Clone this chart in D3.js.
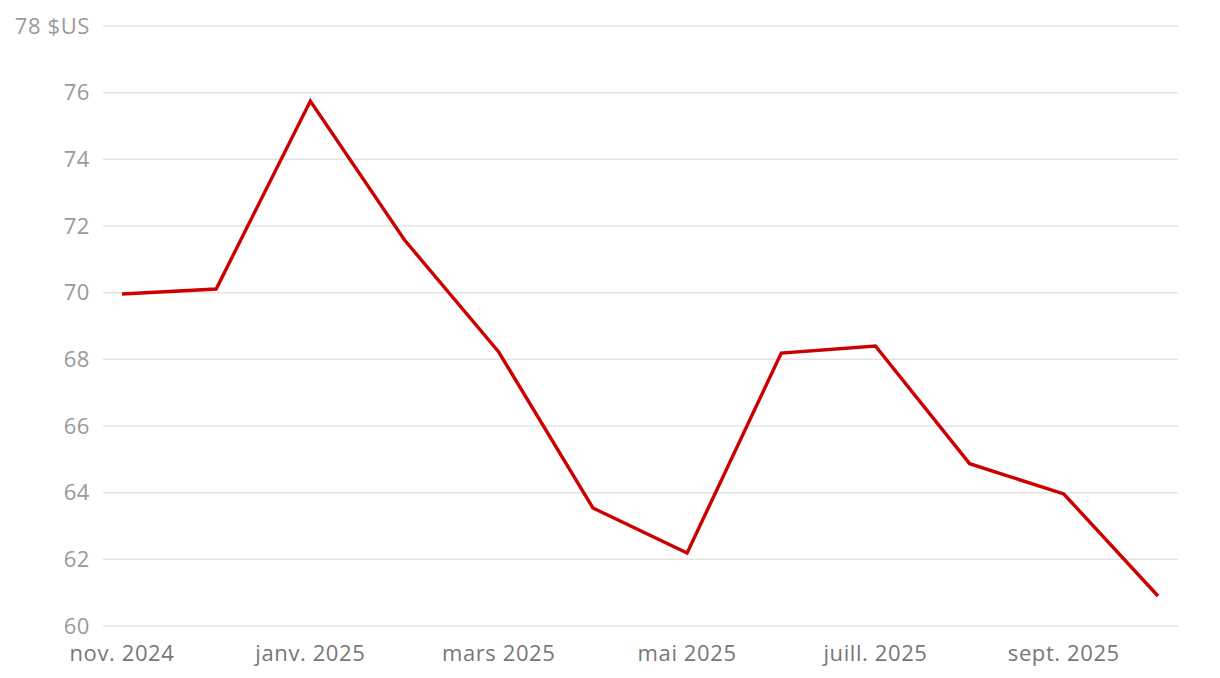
<!DOCTYPE html>
<head>
<meta charset="utf-8">
<script src="https://d3js.org/d3.v7.min.js"></script>
<style>
  body { margin: 0; background: #fff; }
  text { font-family: "Open Sans", sans-serif; letter-spacing: 0.6px; }
</style>
</head>
<body>
<svg id="chart" width="1220" height="678"></svg>
<script>
// mois, de nov. 2024 à oct. 2025
const months = ['nov. 2024','déc. 2024','janv. 2025','févr. 2025','mars 2025','avr. 2025','mai 2025','juin 2025','juill. 2025','août 2025','sept. 2025','oct. 2025'];
const prices = [69.96, 70.11, 75.75, 71.58, 68.22, 63.54, 62.19, 68.19, 68.40, 64.87, 63.96, 60.90];
const xTicks = ['nov. 2024','janv. 2025','mars 2025','mai 2025','juill. 2025','sept. 2025'];
const yTicks = [60, 62, 64, 66, 68, 70, 72, 74, 76, 78];

const data = months.map((m, i) => ({ month: m, value: prices[i] }));

const svg = d3.select('#chart');

const x = d3.scalePoint().domain(months).range([122, 1158]);
const y = d3.scaleLinear().domain([60, 78]).range([626, 26]);

// grille
svg.append('g')
    .selectAll('line')
    .data(yTicks)
    .enter()
    .append('line')
        .attr('x1', 103)
        .attr('x2', 1178)
        .attr('y1', d => y(d))
        .attr('y2', d => y(d))
        .attr('stroke', '#e3e3e3')
        .attr('stroke-width', 1.5);

// étiquettes y
svg.append('g')
    .selectAll('text')
    .data(yTicks)
    .enter()
    .append('text')
        .attr('x', 90)
        .attr('y', d => y(d))
        .attr('dy', '0.35em')
        .attr('text-anchor', 'end')
        .attr('fill', '#9a9a9a')
        .style('font-size', '22px')
        .text(d => d == 78 ? '78 $US' : d);

// étiquettes x
svg.append('g')
    .selectAll('text')
    .data(xTicks)
    .enter()
    .append('text')
        .attr('x', d => x(d))
        .attr('y', 661)
        .attr('text-anchor', 'middle')
        .attr('fill', '#777')
        .style('font-size', '22px')
        .text(d => d);

const line = d3.line()
    .x(d => x(d.month))
    .y(d => y(d.value));

svg.append('path')
    .datum(data)
    .attr('d', line)
    .attr('fill', 'none')
    .attr('stroke', '#cc0000')
    .attr('stroke-width', 3.4)
    .attr('stroke-linejoin', 'miter');
</script>
</body>
